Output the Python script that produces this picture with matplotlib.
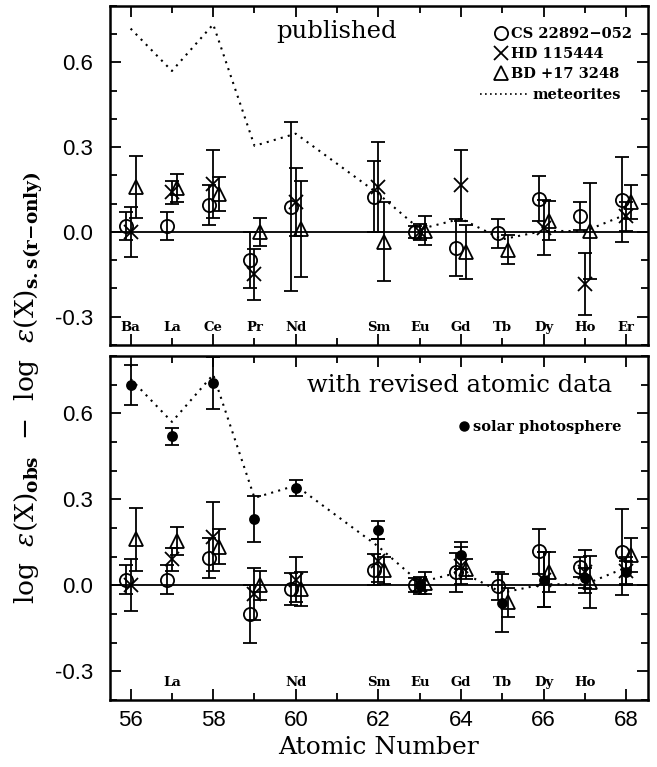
import numpy as np
import matplotlib
matplotlib.use('Agg')
import matplotlib.pyplot as plt
from matplotlib.ticker import MultipleLocator
from matplotlib.lines import Line2D

# elements and atomic numbers
elements = ['Ba', 'La', 'Ce', 'Pr', 'Nd', 'Sm', 'Eu', 'Gd', 'Tb', 'Dy', 'Ho', 'Er']
znum = np.array([56, 57, 58, 59, 60, 62, 63, 64, 65, 66, 67, 68])
bottom_labels = ['La', 'Nd', 'Sm', 'Eu', 'Gd', 'Tb', 'Dy', 'Ho']

# meteoritic s.s. r-only curve (same in both panels)
meteorites = [0.72, 0.57, 0.735, 0.305, 0.348, 0.135, 0.01, 0.047, -0.026, 0.004, 0.003, 0.062]

# published values
cs_pub = [0.02, 0.02, 0.095, -0.10, 0.09, 0.125, 0.0, -0.055, -0.005, 0.118, 0.057, 0.115]
cs_pub_err = [0.05, 0.05, 0.07, 0.10, 0.30, 0.125, 0.02, 0.10, 0.05, 0.08, 0.05, 0.15]
hd_pub = [0.0, 0.14, 0.17, -0.15, 0.105, 0.16, 0.0, 0.165, np.nan, 0.015, -0.185, 0.055]
hd_pub_err = [0.09, 0.04, 0.12, 0.09, 0.12, 0.16, 0.03, 0.125, np.nan, 0.097, 0.11, 0.05]
bd_pub = [0.16, 0.155, 0.135, 0.0, 0.01, -0.035, 0.005, -0.07, -0.062, 0.04, 0.005, 0.105]
bd_pub_err = [0.11, 0.05, 0.06, 0.05, 0.17, 0.14, 0.05, 0.095, 0.05, 0.07, 0.17, 0.06]

# revised atomic data
cs_rev = [0.02, 0.02, 0.095, -0.10, -0.012, 0.055, 0.0, 0.045, -0.003, 0.118, 0.065, 0.115]
cs_rev_err = [0.05, 0.05, 0.07, 0.10, 0.056, 0.055, 0.025, 0.068, 0.05, 0.08, 0.035, 0.15]
hd_rev = [0.0, 0.09, 0.17, -0.03, 0.02, 0.085, 0.0, 0.068, np.nan, 0.02, 0.047, 0.05]
hd_rev_err = [0.09, 0.04, 0.12, 0.09, 0.08, 0.075, 0.03, 0.065, np.nan, 0.095, 0.075, 0.05]
bd_rev = [0.16, 0.155, 0.135, 0.0, -0.012, 0.052, 0.008, 0.056, -0.06, 0.045, 0.012, 0.105]
bd_rev_err = [0.11, 0.05, 0.06, 0.05, 0.06, 0.048, 0.04, 0.035, 0.05, 0.07, 0.09, 0.06]
solar = [0.70, 0.52, 0.705, 0.23, 0.339, 0.193, 0.0, 0.105, -0.062, 0.02, 0.027, 0.045]
solar_err = [0.07, 0.03, 0.09, 0.08, 0.027, 0.03, 0.02, 0.047, 0.10, 0.095, 0.035, 0.04]

plt.rcParams['font.family'] = ['Liberation Sans', 'DejaVu Sans']
plt.rcParams['mathtext.fontset'] = 'dejavuserif'
plt.rcParams['axes.unicode_minus'] = False

serif = 'DejaVu Serif'
ebkw = dict(ls='none', ecolor='k', elinewidth=1.3, capsize=5, capthick=1.3, mec='k', mew=1.3)


def panel(ax, cs, cse, hd, hde, bd, bde, labels, sol=None, sole=None):
    ax.axhline(0, color='k', lw=1.3)
    ax.plot(znum, meteorites, color='k', lw=1.5, ls=(0, (1, 2.5)))
    ax.errorbar(znum - 0.11, cs, yerr=cse, fmt='o', ms=9.5, mfc='none', **ebkw)
    ax.errorbar(znum, hd, yerr=hde, fmt='x', ms=10, **ebkw)
    ax.errorbar(znum + 0.13, bd, yerr=bde, fmt='^', ms=10, mfc='none', **ebkw)
    if sol is not None:
        ax.errorbar(znum, sol, yerr=sole, fmt='o', ms=6.5, mfc='k', **ebkw)
    for el, z in zip(elements, znum):
        if el in labels:
            ax.text(z, -0.35, el, ha='center', va='baseline', family=serif,
                    weight='bold', fontsize=9.5)
    ax.set_xlim(55.5, 68.53)
    ax.set_ylim(-0.4, 0.8)
    ax.xaxis.set_major_locator(MultipleLocator(2))
    ax.xaxis.set_minor_locator(MultipleLocator(1))
    ax.yaxis.set_major_locator(MultipleLocator(0.3))
    ax.yaxis.set_minor_locator(MultipleLocator(0.1))
    ax.tick_params(which='both', direction='in', top=True, right=True, width=1.3, labelsize=16)
    ax.tick_params(which='major', length=8)
    ax.tick_params(which='minor', length=5)
    ax.tick_params(axis='y', pad=12)
    ax.tick_params(axis='x', pad=7)
    for s in ax.spines.values():
        s.set_linewidth(1.8)


fig = plt.figure(figsize=(6.57, 7.67), dpi=100)
ax1 = fig.add_axes([0.1674, 0.5502, 0.8189, 0.4420])
ax2 = fig.add_axes([0.1674, 0.0874, 0.8189, 0.4485])

panel(ax1, cs_pub, cs_pub_err, hd_pub, hd_pub_err, bd_pub, bd_pub_err, elements)
panel(ax2, cs_rev, cs_rev_err, hd_rev, hd_rev_err, bd_rev, bd_rev_err, bottom_labels,
      solar, solar_err)
ax1.tick_params(labelbottom=False)

ax1.text(0.421, 0.906, 'published', transform=ax1.transAxes, ha='center',
         va='baseline', family=serif, fontsize=17.5)
ax2.text(0.65, 0.896, 'with revised atomic data', transform=ax2.transAxes, ha='center',
         va='baseline', family=serif, fontsize=17.5)

# legends
lprop = dict(family=serif, weight='bold', size=10.5)
h1 = [Line2D([], [], marker='o', ms=9.5, mfc='none', mec='k', mew=1.3, ls='none'),
      Line2D([], [], marker='x', ms=10, mec='k', mew=1.3, ls='none'),
      Line2D([], [], marker='^', ms=10, mfc='none', mec='k', mew=1.3, ls='none')]
leg1 = ax1.legend(h1, ['CS 22892\u2212052', 'HD 115444', 'BD +17 3248'], loc='upper right',
                  bbox_to_anchor=(0.97, 0.938), frameon=False, prop=lprop, handlelength=0.8,
                  handletextpad=0.25, labelspacing=0.4, borderpad=0, borderaxespad=0)
ax1.add_artist(leg1)
h2 = [Line2D([], [], color='k', lw=1.2, ls=(0, (1, 2)))]
ax1.legend(h2, ['meteorites'], loc='upper right', bbox_to_anchor=(0.95, 0.759),
           frameon=False, prop=lprop, handlelength=3.2, handletextpad=0.4,
           borderpad=0, borderaxespad=0)
h3 = [Line2D([], [], marker='o', ms=6.5, mfc='k', mec='k', ls='none')]
ax2.legend(h3, ['solar photosphere'], loc='upper right', bbox_to_anchor=(0.95, 0.813),
           frameon=False, prop=lprop, handlelength=0.6, handletextpad=0.3,
           borderpad=0, borderaxespad=0)

ax2.set_xlabel('Atomic Number', family=serif, fontsize=18, labelpad=4)
fig.text(0.043, 0.494,
         r'log  $\epsilon$(X)$_{\mathbf{obs}}$  $-$  log  $\epsilon$(X)$_{\mathbf{s.s(r{-}only)}}$',
         rotation=90, ha='center', va='center', family=serif, fontsize=19)

fig.savefig('out.png', dpi=100)
